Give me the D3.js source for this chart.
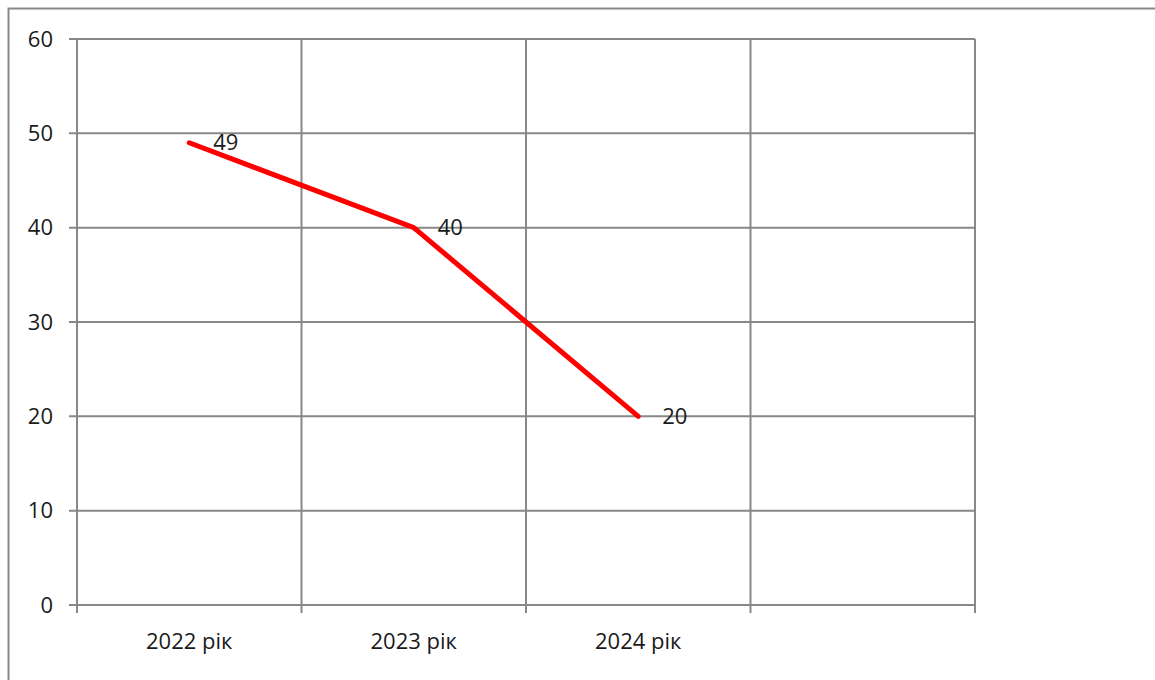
<!DOCTYPE html>
<html>
<head>
<meta charset="utf-8">
<script src="https://cdn.jsdelivr.net/npm/d3@7"></script>
<style>
  body { margin: 0; background: #fff; }
  text { font-family: "Open Sans", "Liberation Sans", sans-serif; fill: #1a1a1a; }
</style>
</head>
<body>
<script>
let categories = ['2022 рік', '2023 рік', '2024 рік', ''];
let values = [49, 40, 20];
let yTicks = [0, 10, 20, 30, 40, 50, 60];

let width = 1155, height = 680;
let margin = {left: 77, top: 39, right: 180, bottom: 75};

let svg = d3.select('body')
  .append('svg')
  .attr('width', width)
  .attr('height', height);

// outer frame (runs off the right and bottom edges)
svg.append('rect')
  .attr('x', 8.5).attr('y', 8.5)
  .attr('width', 1200).attr('height', 700)
  .attr('fill', 'none')
  .attr('stroke', '#888')
  .attr('stroke-width', 2);

let x = d3.scaleBand()
  .domain(categories.map((c, i) => i))
  .range([margin.left, width - margin.right]);

let y = d3.scaleLinear()
  .domain([0, 60])
  .range([height - margin.bottom, margin.top]);

let g = svg.append('g');

// horizontal grid
g.selectAll('line.h')
  .data(yTicks)
  .join('line')
  .attr('class', 'h')
  .attr('x1', margin.left - 8)
  .attr('x2', width - margin.right)
  .attr('y1', d => y(d))
  .attr('y2', d => y(d))
  .attr('stroke', '#888')
  .attr('stroke-width', 2);

// vertical grid at band edges
let edges = d3.range(categories.length + 1).map(i => margin.left + i * x.step());
g.selectAll('line.v')
  .data(edges)
  .join('line')
  .attr('class', 'v')
  .attr('x1', d => d)
  .attr('x2', d => d)
  .attr('y1', margin.top)
  .attr('y2', y(0) + 8)
  .attr('stroke', '#888')
  .attr('stroke-width', 2);

// y labels
g.selectAll('text.yl')
  .data(yTicks)
  .join('text')
  .attr('class', 'yl')
  .attr('x', 53)
  .attr('y', d => y(d))
  .attr('dy', '0.35em')
  .attr('text-anchor', 'end')
  .style('font-size', '22px')
  .text(d => d);

// x labels
g.selectAll('text.xl')
  .data(categories)
  .join('text')
  .attr('class', 'xl')
  .attr('x', (d, i) => x(i) + x.bandwidth() / 2)
  .attr('y', 641)
  .attr('dy', '0.35em')
  .attr('text-anchor', 'middle')
  .style('font-size', '22px')
  .text(d => d);

// line
let line = d3.line()
  .x((d, i) => x(i) + x.bandwidth() / 2)
  .y(d => y(d));

g.append('path')
  .datum(values)
  .attr('d', line)
  .attr('fill', 'none')
  .attr('stroke', '#ff0000')
  .attr('stroke-width', 5)
  .attr('stroke-linecap', 'round')
  .attr('stroke-linejoin', 'round');

// data labels
g.selectAll('text.dl')
  .data(values)
  .join('text')
  .attr('class', 'dl')
  .attr('x', (d, i) => x(i) + x.bandwidth() / 2 + 24)
  .attr('y', d => y(d))
  .attr('dy', '0.35em')
  .style('font-size', '22px')
  .text(d => d);
</script>
</body>
</html>
